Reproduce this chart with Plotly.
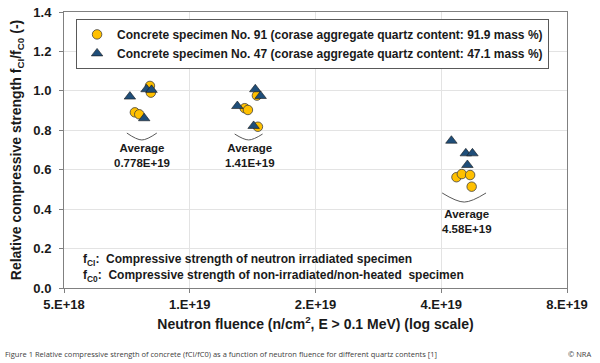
import numpy as np
import plotly.graph_objects as go

# ---- data ----
no91_fluence = [8.03e18, 8.07e18, 7.39e18, 7.57e18,
                1.354e19, 1.378e19, 1.448e19, 1.456e19,
                4.35e19, 4.48e19, 4.69e19, 4.73e19]
no91_ratio = [1.025, 0.991, 0.891, 0.881,
              0.912, 0.903, 0.976, 0.818,
              0.562, 0.578, 0.573, 0.514]

no47_fluence = [7.19e18, 7.88e18, 8.10e18, 7.78e18,
                1.30e19, 1.435e19, 1.478e19, 1.422e19,
                4.23e19, 4.58e19, 4.75e19, 4.62e19]
no47_ratio = [0.971, 1.008, 1.005, 0.861,
              0.923, 1.008, 0.974, 0.822,
              0.747, 0.683, 0.683, 0.624]

avg_labels = ["0.778E+19", "1.41E+19", "4.58E+19"]
avg_label_x = [7.68e18, 1.391e19, 4.6e19]
avg_label_y = [0.67, 0.67, 0.335]

# bracket arcs under each group: left, middle, right fluence and top / bottom ratio
arc_left = [7.07e18, 1.281e19, 4.02e19]
arc_mid = [7.68e18, 1.384e19, 4.54e19]
arc_right = [8.34e18, 1.494e19, 5.12e19]
arc_top = [0.786, 0.781, 0.482]
arc_bottom = [0.751, 0.751, 0.436]

x_tickvals = [5e18, 1e19, 2e19, 4e19, 8e19]
x_ticktext = ["5.E+18", "1.E+19", "2.E+19", "4.E+19", "8.E+19"]

FONT = "Liberation Sans, Arial, sans-serif"
TXT = "#1a1a1a"

fig = go.Figure()

# arcs
for i in range(3):
    fig.add_trace(go.Scatter(
        x=[arc_left[i], arc_mid[i], arc_right[i]],
        y=[arc_top[i], arc_bottom[i], arc_top[i]],
        mode="lines", line=dict(color="#595959", width=1, shape="spline"),
        showlegend=False, hoverinfo="skip"))

fig.add_trace(go.Scatter(
    x=no91_fluence, y=no91_ratio, mode="markers",
    name="<b>Concrete specimen No. 91 (corase aggregate quartz content: 91.9 mass %)</b>",
    marker=dict(symbol="circle", size=9.5, color="#FFC000",
                line=dict(color="#404040", width=0.8))))

fig.add_trace(go.Scatter(
    x=no47_fluence, y=no47_ratio, mode="markers",
    name="<b>Concrete specimen No. 47 (corase aggregate quartz content: 47.1 mass %)</b>",
    marker=dict(symbol="triangle-up", size=10, color="#1F4E79",
                line=dict(color="#1a1a1a", width=0.6))))

for i in range(3):
    fig.add_annotation(x=np.log10(avg_label_x[i]), y=avg_label_y[i],
                       text="<b>Average<br>" + avg_labels[i] + "</b>",
                       showarrow=False, font=dict(size=11.5, color=TXT, family=FONT),
                       xanchor="center", yanchor="middle")

fig.add_annotation(xref="paper", yref="paper", x=0.034, y=0.101,
                   text="<b>f<sub>CI</sub>:  Compressive strength of neutron irradiated specimen</b>",
                   showarrow=False, xanchor="left", yanchor="middle",
                   font=dict(size=12, color=TXT, family=FONT))
fig.add_annotation(xref="paper", yref="paper", x=0.034, y=0.043,
                   text="<b>f<sub>C0</sub>:  Compressive strength of non-irradiated/non-heated  specimen</b>",
                   showarrow=False, xanchor="left", yanchor="middle",
                   font=dict(size=12, color=TXT, family=FONT))

fig.add_annotation(xref="paper", yref="paper", x=-0.121, y=-0.239,
                   text="Figure 1 Relative compressive strength of concrete (fCI/fC0) as a function of neutron fluence for different quartz contents [1]",
                   showarrow=False, xanchor="left", yanchor="middle",
                   font=dict(size=7.5, color="#404040", family="Open Sans, sans-serif"))
fig.add_annotation(xref="paper", yref="paper", x=1.052, y=-0.239,
                   text="© NRA", showarrow=False, xanchor="right", yanchor="middle",
                   font=dict(size=7.5, color="#404040", family="Open Sans, sans-serif"))

fig.update_layout(
    width=600, height=363,
    margin=dict(l=64, r=33, t=12, b=75),
    paper_bgcolor="white", plot_bgcolor="white",
    font=dict(family=FONT, color=TXT),
    showlegend=True,
    legend=dict(x=0.024, y=0.975, xanchor="left", yanchor="top",
                bordercolor="#595959", borderwidth=1, bgcolor="white",
                font=dict(size=12, family=FONT, color=TXT),
                itemwidth=30, tracegroupgap=0),
)

fig.update_xaxes(
    type="log", range=[np.log10(5e18), np.log10(8e19)],
    tickvals=x_tickvals, ticktext=["<b>%s</b>" % t for t in x_ticktext],
    tickfont=dict(size=13, family=FONT, color=TXT),
    showgrid=True, gridcolor="#e3e3e3", gridwidth=1,
    showline=True, linecolor="#808080", linewidth=1, mirror=True,
    ticks="outside", ticklen=4, tickcolor="#808080",
    title=dict(text="<b>Neutron fluence (n/cm<sup>2</sup>, E > 0.1 MeV) (log scale)</b>",
               font=dict(size=14, family=FONT, color=TXT), standoff=8),
    zeroline=False, automargin=False,
)
fig.update_yaxes(
    range=[0, 1.4], dtick=0.2, tickformat=".1f",
    tickfont=dict(size=13, family=FONT, color=TXT),
    showgrid=True, gridcolor="#e3e3e3", gridwidth=1,
    showline=True, linecolor="#808080", linewidth=1, mirror=True,
    ticks="outside", ticklen=4, tickcolor="#808080", ticklabelstandoff=5,
    title=dict(text="<b>Relative compressive strength f<sub>CI</sub>/f<sub>C0</sub> (-)</b>",
               font=dict(size=14, family=FONT, color=TXT), standoff=8),
    zeroline=False, automargin=False,
    tickprefix="<b>", ticksuffix="</b>",
)

fig.write_html("out.html", config={"displayModeBar": False},
               post_script="document.body.style.margin='0';document.body.style.overflow='hidden';")
